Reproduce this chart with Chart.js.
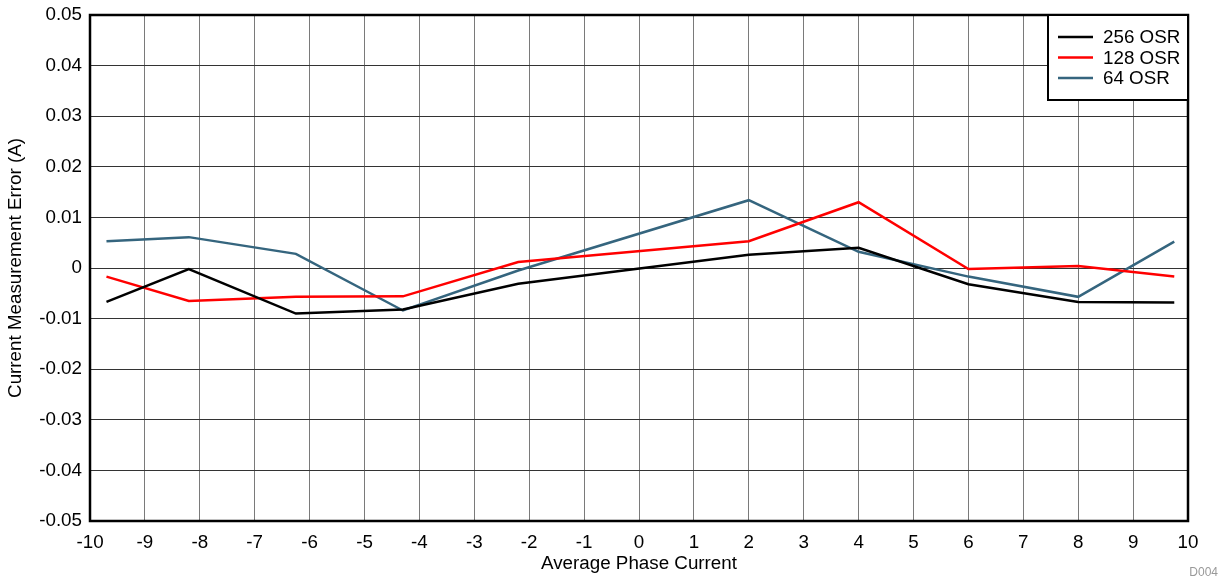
<!DOCTYPE html>
<html>
<head>
<meta charset="utf-8">
<script src="https://cdn.jsdelivr.net/npm/chart.js@4/dist/chart.umd.min.js"></script>
<style>
  html, body { margin: 0; padding: 0; background: #fff; }
  #wrap { width: 1225px; height: 579px; position: relative; }
</style>
</head>
<body>
<div id="wrap"><canvas id="c"></canvas></div>
<script>
// ─── Data ────────────────────────────────────────────────────────────────────
const phaseCurrent = [-9.7, -8.2, -6.25, -4.3, -2.2, 2, 4, 6, 8, 9.75];
const osr256 = [-0.0067, -0.0002, -0.0090, -0.0082, -0.0031, 0.0026, 0.0040, -0.0032, -0.0067, -0.0068];
const osr128 = [-0.0017, -0.0065, -0.0057, -0.0056, 0.0012, 0.0053, 0.0130, -0.0002, 0.0004, -0.0017];
const osr64  = [0.0053, 0.0061, 0.0028, -0.0084, -0.0005, 0.0134, 0.0032, -0.0017, -0.0057, 0.0052];
const seriesLabels = ['256 OSR', '128 OSR', '64 OSR'];
const seriesColors = ['#000000', '#ff0000', '#35657e'];

const FONT = 'Liberation Sans, Arial, sans-serif';
const FSIZE = 18.8;
const toXY = vals => vals.map((v, i) => ({ x: phaseCurrent[i], y: v }));

// ─── Plugin: frame + legend box + footnote ──────────────────────────────────
Chart.register({
  id: 'frameLegend',
  afterDraw(chart) {
    const { ctx, chartArea: a } = chart;
    ctx.save();
    ctx.strokeStyle = '#000';
    ctx.lineWidth = 2.5;
    ctx.strokeRect(a.left, a.top, a.right - a.left, a.bottom - a.top);

    // legend box in upper right
    const bx = 1048, by = a.top, bw = a.right - bx, bh = 85;
    ctx.fillStyle = '#fff';
    ctx.fillRect(bx, by, bw, bh);
    ctx.lineWidth = 2;
    ctx.strokeRect(bx, by, bw, bh);
    ctx.font = FSIZE + 'px ' + FONT;
    ctx.textBaseline = 'middle';
    ctx.textAlign = 'left';
    chart.data.datasets.forEach((ds, i) => {
      const y = by + 22 + i * 20.5;
      ctx.strokeStyle = ds.borderColor;
      ctx.lineWidth = 2.5;
      ctx.beginPath(); ctx.moveTo(1058, y); ctx.lineTo(1093, y); ctx.stroke();
      ctx.fillStyle = '#000';
      ctx.fillText(ds.label, 1103, y + 1);
    });

    ctx.font = '12px ' + FONT;
    ctx.fillStyle = '#999';
    ctx.textAlign = 'right';
    ctx.fillText('D004', 1218, 573);
    ctx.restore();
  }
});

new Chart(document.getElementById('c'), {
  type: 'line',
  data: {
    datasets: [osr256, osr128, osr64].map((vals, i) => ({
      label: seriesLabels[i], data: toXY(vals),
      borderColor: seriesColors[i], backgroundColor: seriesColors[i],
      borderWidth: 2.5, pointRadius: 0, fill: false, tension: 0
    }))
  },
  options: {
    responsive: true, maintainAspectRatio: false, animation: false,
    layout: { padding: { left: 0, right: 37, top: 15, bottom: 0 } },
    plugins: { legend: { display: false }, tooltip: { enabled: false } },
    scales: {
      x: {
        type: 'linear', min: -10, max: 10,
        afterFit(s) { s.height = 58; s.paddingLeft = 0; s.paddingRight = 0; },
        ticks: { stepSize: 1, color: '#000', padding: 11, font: { family: FONT, size: FSIZE } },
        grid: { color: '#7a7a7a', lineWidth: 1, drawTicks: false },
        border: { display: false },
        title: { display: true, text: 'Average Phase Current', color: '#000',
          font: { family: FONT, size: FSIZE }, padding: { top: 0, bottom: 4 } }
      },
      y: {
        min: -0.05, max: 0.05,
        afterFit(s) { s.width = 90; s.paddingTop = 0; s.paddingBottom = 0; },
        ticks: { stepSize: 0.01, color: '#000', padding: 8, font: { family: FONT, size: FSIZE },
          callback: v => String(+v.toFixed(2)) },
        grid: { color: '#333', lineWidth: 1, drawTicks: false },
        border: { display: false },
        title: { display: true, text: 'Current Measurement Error (A)', color: '#000',
          font: { family: FONT, size: FSIZE }, padding: { top: 5, bottom: 0 } }
      }
    }
  }
});
</script>
</body>
</html>
